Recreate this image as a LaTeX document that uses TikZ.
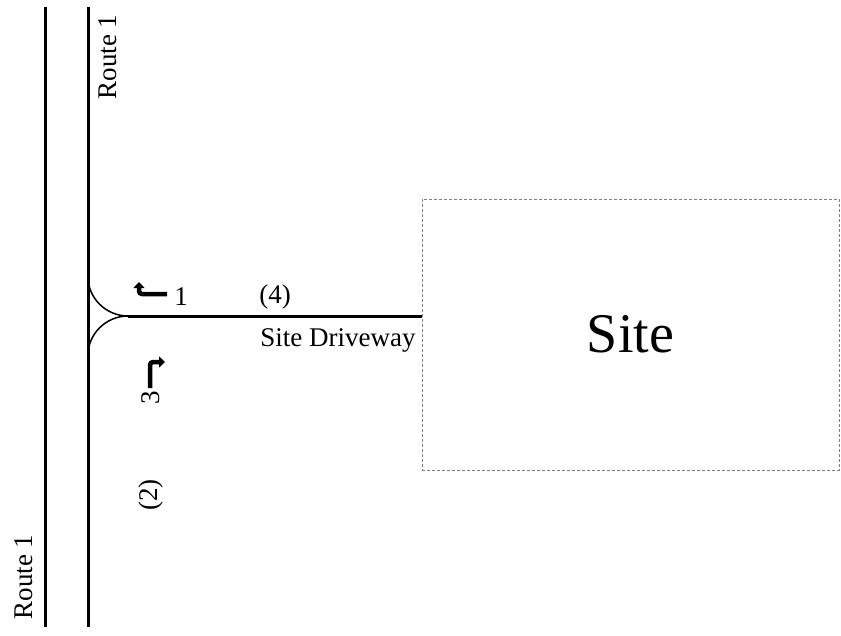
\documentclass[tikz,border=0pt]{standalone}
\usepackage{fontspec}
\setmainfont{Liberation Serif}
\usetikzlibrary{arrows.meta}
\begin{document}
\begin{tikzpicture}
  [x=1pt,y=-1pt,
   road/.style={line width=3pt},
   ramp/.style={line width=1.5pt},
   turn/.style={line width=4.5pt,rounded corners=3pt,-{Triangle[width=11pt,length=6pt]}},
   lbl/.style={inner sep=0pt,font=\fontsize{27}{30}\selectfont}]
  \useasboundingbox (0,0) rectangle (841,635);
  % roads
  \coordinate (w1) at (45,7);
  \coordinate (w2) at (45,627);
  \coordinate (e1) at (88,7);
  \coordinate (e2) at (88,627);
  \coordinate (c1) at (88,277);
  \coordinate (c2) at (88,355);
  \coordinate (dw) at (128,316);
  \draw[road] (w1) -- (w2);
  \draw[road] (e1) -- (e2);
  \draw[ramp] (c1) .. controls (88,298) and (106,316) .. (dw);
  \draw[ramp] (dw) .. controls (106,316) and (88,334) .. (c2);

  % site
  \node (site) [draw=gray,dash pattern=on 3pt off 2pt,line width=1pt,
    minimum width=417pt,minimum height=271pt,inner sep=0pt,
    font=\fontsize{56}{60}\selectfont] at (630.5,334.5) {Site};
  \draw[road] (dw) -- (dw -| site.west);

  % turn arrows
  \coordinate (t1a) at (167,294);
  \coordinate (t1b) at (139,294);
  \coordinate (t1c) at (139,282);
  \draw[turn] (t1a) -- (t1b) -- (t1c);
  \coordinate (t3a) at (150,388);
  \coordinate (t3b) at (150,362);
  \coordinate (t3c) at (165,362);
  \draw[turn] (t3a) -- (t3b) -- (t3c);

  % labels
  \node[lbl,rotate=90] (r1) at (108,57) {Route 1};
  \node[lbl,rotate=90] (r2) at (24,577) {Route 1};
  \node[lbl] (n1) at (181,297) {1};
  \node[lbl,rotate=90] (n3) at (151,398) {3};
  \node[lbl,rotate=90] (n2) at (151,495) {(2)};
  \node[lbl] (n4) at (275,297) {(4)};
  \node[lbl] (drv) at (338,340) {Site Driveway};
\end{tikzpicture}
\end{document}
